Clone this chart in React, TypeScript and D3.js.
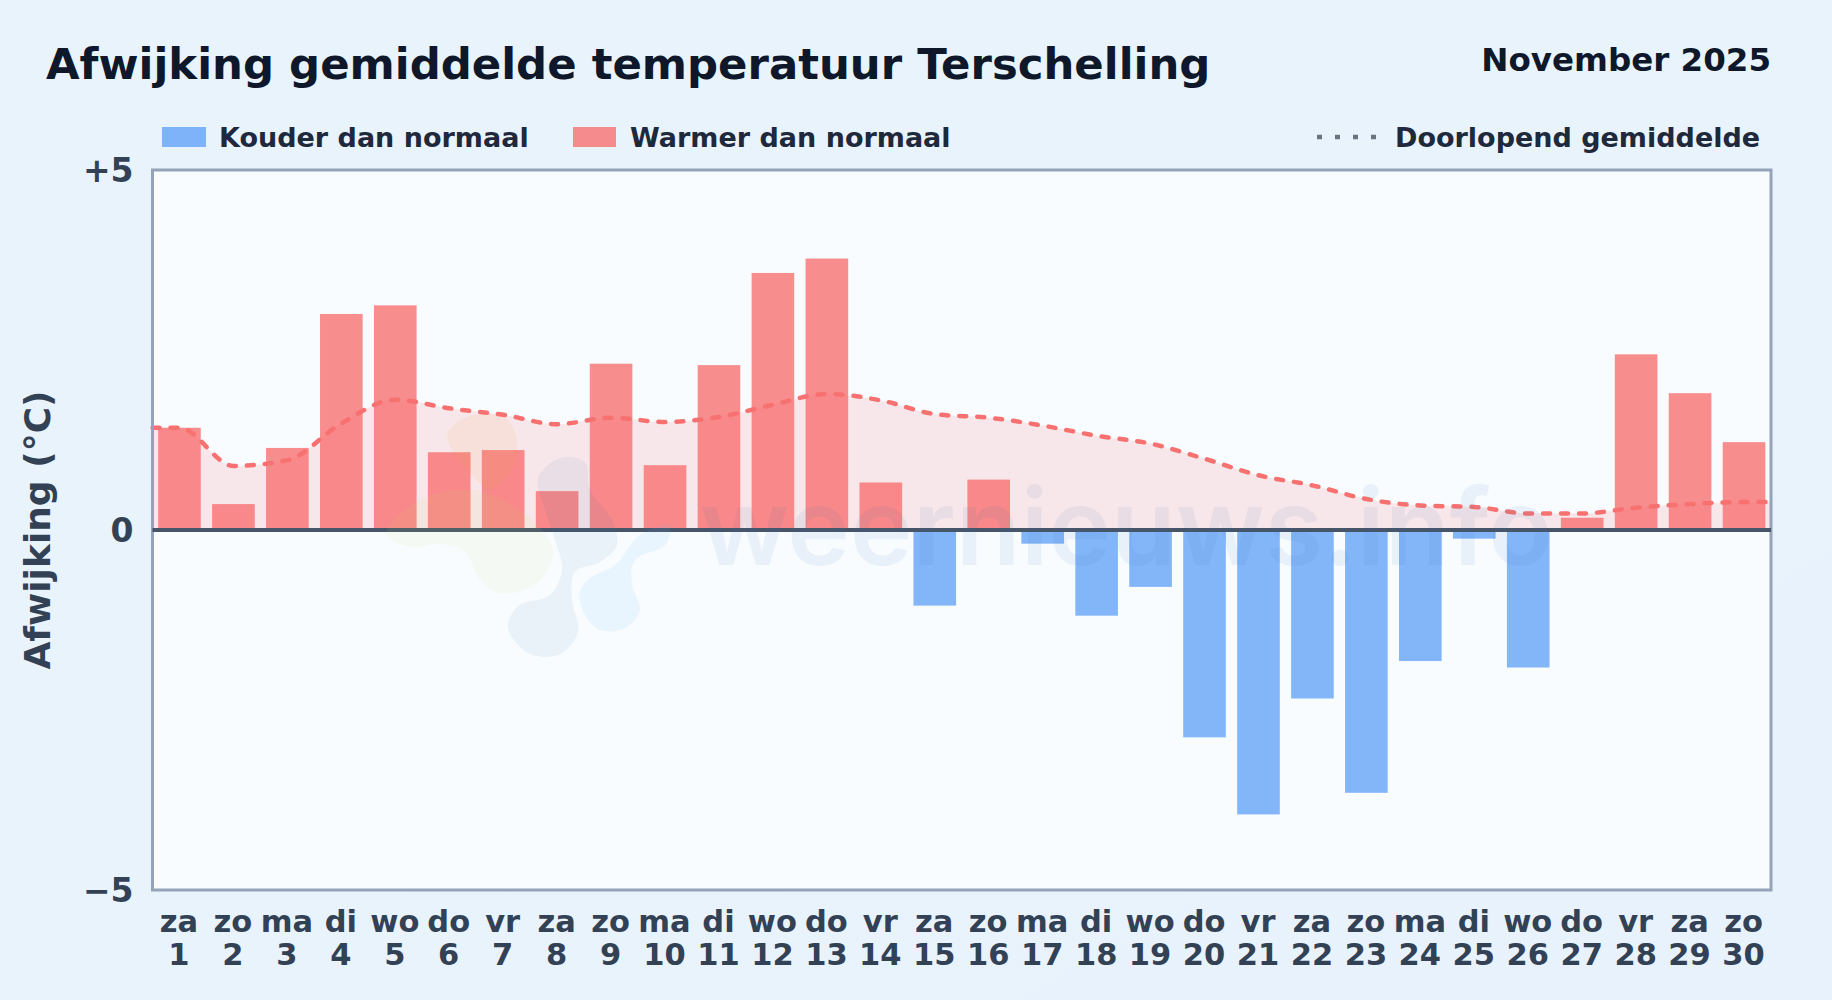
import { useEffect, useRef } from 'react';
import * as d3 from 'd3';

const weekdays = ['za', 'zo', 'ma', 'di', 'wo', 'do', 'vr', 'za', 'zo', 'ma', 'di', 'wo', 'do', 'vr', 'za', 'zo', 'ma', 'di', 'wo', 'do', 'vr', 'za', 'zo', 'ma', 'di', 'wo', 'do', 'vr', 'za', 'zo'];
const days = d3.range(1, 31);
const anomalies = [1.42, 0.36, 1.14, 3.0, 3.12, 1.08, 1.11, 0.54, 2.31, 0.9, 2.29, 3.57, 3.77, 0.66, -1.05, 0.7, -0.19, -1.19, -0.79, -2.88, -3.95, -2.34, -3.65, -1.82, -0.12, -1.91, 0.17, 2.44, 1.9, 1.22];
const runningMean = [1.42, 0.89, 0.97, 1.48, 1.81, 1.69, 1.6, 1.47, 1.56, 1.5, 1.57, 1.74, 1.89, 1.8, 1.61, 1.56, 1.45, 1.31, 1.2, 0.99, 0.76, 0.62, 0.43, 0.34, 0.32, 0.23, 0.23, 0.31, 0.36, 0.39];
const yTicks = [5, 0, -5];

// Faint logo behind the watermark text, outline points in page pixels
const logoBlobs: { fill: string; opacity: number; points: [number, number][] }[] = [
    { fill: '#e8a840', opacity: 0.1, points: [[448, 432], [470, 416], [505, 418], [517, 440], [512, 470], [490, 490], [468, 470], [452, 450]] },
    { fill: '#c8e060', opacity: 0.08, points: [[386, 534], [420, 500], [470, 490], [520, 510], [553, 550], [535, 585], [500, 593], [480, 580], [465, 552], [440, 544], [410, 547]] },
    { fill: '#2f6fb0', opacity: 0.07, points: [[538, 478], [560, 458], [585, 462], [590, 490], [612, 520], [617, 545], [600, 562], [575, 572], [572, 600], [578, 632], [560, 654], [530, 654], [508, 628], [518, 606], [550, 595], [562, 570], [555, 540], [545, 510]] },
    { fill: '#4db0f5', opacity: 0.09, points: [[580, 592], [590, 578], [615, 565], [640, 535], [670, 525], [665, 545], [635, 560], [632, 585], [640, 610], [625, 628], [600, 630], [585, 615]] },
];

const width = 1832;
const height = 1000;
const margin = { top: 170, right: 61, bottom: 110, left: 152.5 };
const fontFamily = '"DejaVu Sans", sans-serif';

const App = () => {
    const svgRef = useRef<SVGSVGElement>(null);

    useEffect(() => {
        const svg = d3.select(svgRef.current);
        svg.selectAll('*').remove();

        const x = d3
            .scaleBand<number>()
            .domain(days)
            .range([margin.left, width - margin.right])
            .paddingInner(0.21)
            .paddingOuter(0.105);
        const y = d3
            .scaleLinear()
            .domain([-5, 5])
            .range([height - margin.bottom, margin.top]);
        const center = (d: number) => (x(d) ?? 0) + x.bandwidth() / 2;

        // Background
        const defs = svg.append('defs');
        const bg = defs
            .append('linearGradient')
            .attr('id', 'bg')
            .attr('x1', 0)
            .attr('y1', 0)
            .attr('x2', 1)
            .attr('y2', 1);
        bg.append('stop').attr('offset', '0%').attr('stop-color', '#e8f3fc');
        bg.append('stop').attr('offset', '50%').attr('stop-color', '#e9f3fc');
        bg.append('stop').attr('offset', '100%').attr('stop-color', '#e7f2fc');
        svg.append('rect')
            .attr('width', width)
            .attr('height', height)
            .attr('fill', 'url(#bg)');

        // Plot area
        svg.append('rect')
            .attr('x', margin.left)
            .attr('y', margin.top)
            .attr('width', width - margin.left - margin.right)
            .attr('height', height - margin.top - margin.bottom)
            .attr('fill', '#f8fcff');

        // Area and running mean
        const lineData: [number, number][] = [
            [margin.left, runningMean[0]],
            ...days.map((d, i): [number, number] => [center(d), runningMean[i]]),
            [width - margin.right, runningMean[runningMean.length - 1]],
        ];
        const area = d3
            .area<[number, number]>()
            .x(d => d[0])
            .y0(y(0))
            .y1(d => y(d[1]))
            .curve(d3.curveMonotoneX);
        svg.append('path')
            .attr('d', area(lineData))
            .attr('fill', '#f87171')
            .attr('fill-opacity', 0.15);

        // Bars
        svg.append('g')
            .selectAll('rect')
            .data(anomalies)
            .join('rect')
            .attr('x', (_d, i) => x(days[i]) ?? 0)
            .attr('y', d => y(Math.max(d, 0)))
            .attr('width', x.bandwidth())
            .attr('height', d => Math.abs(y(d) - y(0)))
            .attr('fill', d => (d < 0 ? '#3b8bf6' : '#f87171'))
            .attr('fill-opacity', d => (d < 0 ? 0.62 : 0.8));

        const line = d3
            .line<[number, number]>()
            .x(d => d[0])
            .y(d => y(d[1]))
            .curve(d3.curveMonotoneX);
        svg.append('path')
            .attr('d', line(lineData))
            .attr('fill', 'none')
            .attr('stroke', '#f87171')
            .attr('stroke-width', 4.5)
            .attr('stroke-dasharray', '7 11')
            .attr('stroke-linecap', 'round');

        // Frame and zero line
        svg.append('rect')
            .attr('x', margin.left)
            .attr('y', margin.top)
            .attr('width', width - margin.left - margin.right)
            .attr('height', height - margin.top - margin.bottom)
            .attr('fill', 'none')
            .attr('stroke', '#94a3b8')
            .attr('stroke-width', 3);
        svg.append('line')
            .attr('x1', margin.left)
            .attr('x2', width - margin.right)
            .attr('y1', y(0))
            .attr('y2', y(0))
            .attr('stroke', '#475569')
            .attr('stroke-width', 4);

        // Watermark lies over the marks
        const blobLine = d3
            .line()
            .curve(d3.curveCatmullRomClosed.alpha(0.5));
        svg.append('g')
            .selectAll('path')
            .data(logoBlobs)
            .join('path')
            .attr('d', d => blobLine(d.points))
            .attr('fill', d => d.fill)
            .attr('fill-opacity', d => d.opacity);
        svg.append('text')
            .attr('x', 700)
            .attr('y', 565)
            .attr('font-family', 'Inter, sans-serif')
            .attr('font-size', 106)
            .attr('font-weight', 600)
            .attr('fill', '#2f6fb0')
            .attr('fill-opacity', 0.08)
            .text('weernieuws.info');

        // Axes
        const yAxis = svg
            .append('g')
            .attr('transform', `translate(${margin.left},0)`)
            .call(
                d3
                    .axisLeft(y)
                    .tickValues(yTicks)
                    .tickSize(0)
                    .tickPadding(19)
                    .tickFormat(d => (+d > 0 ? `+${d}` : +d < 0 ? `\u2212${-d}` : `${d}`))
            );
        yAxis.select('.domain').remove();
        yAxis
            .selectAll('text')
            .attr('dy', '0.36em')
            .attr('font-family', fontFamily)
            .attr('font-size', 33)
            .attr('font-weight', 700)
            .attr('fill', '#334155');

        const xAxis = svg
            .append('g')
            .attr('transform', `translate(0,${height - margin.bottom})`)
            .call(d3.axisBottom(x).tickSize(0));
        xAxis.select('.domain').remove();
        xAxis.selectAll<SVGTextElement, number>('text').each(function (d) {
            const t = d3.select(this);
            t.text(null)
                .attr('y', 0)
                .attr('dy', null)
                .attr('x', -0.5)
                .attr('font-family', fontFamily)
                .attr('font-size', 30.5)
                .attr('font-weight', 700)
                .attr('fill', '#334155');
            t.append('tspan').attr('x', -0.5).attr('y', 42).text(weekdays[d - 1]);
            t.append('tspan').attr('x', -0.5).attr('y', 75).text(d);
        });

        // Y-axis label
        svg.append('text')
            .attr('transform', `translate(50,${y(0)}) rotate(-90)`)
            .attr('text-anchor', 'middle')
            .attr('font-family', fontFamily)
            .attr('font-size', 36)
            .attr('font-weight', 700)
            .attr('fill', '#334155')
            .text('Afwijking (°C)');

        // Titles
        svg.append('text')
            .attr('x', 46)
            .attr('y', 79)
            .attr('font-family', fontFamily)
            .attr('font-size', 43.4)
            .attr('font-weight', 700)
            .attr('fill', '#0f172a')
            .text('Afwijking gemiddelde temperatuur Terschelling');
        svg.append('text')
            .attr('x', 1771)
            .attr('y', 71)
            .attr('text-anchor', 'end')
            .attr('font-family', fontFamily)
            .attr('font-size', 32.5)
            .attr('font-weight', 700)
            .attr('fill', '#0f172a')
            .text('November 2025');

        // Legend
        const legendText = (lx: number, label: string) =>
            svg
                .append('text')
                .attr('x', lx)
                .attr('y', 146.5)
                .attr('font-family', fontFamily)
                .attr('font-size', 27)
                .attr('font-weight', 700)
                .attr('fill', '#1e293b')
                .text(label);
        svg.append('rect').attr('x', 162).attr('y', 127).attr('width', 44).attr('height', 20).attr('fill', '#3b8bf6').attr('fill-opacity', 0.62);
        legendText(219, 'Kouder dan normaal');
        svg.append('rect').attr('x', 573).attr('y', 127).attr('width', 43).attr('height', 20).attr('fill', '#f87171').attr('fill-opacity', 0.8);
        legendText(630, 'Warmer dan normaal');
        svg.append('line')
            .attr('x1', 1317)
            .attr('x2', 1376)
            .attr('y1', 137)
            .attr('y2', 137)
            .attr('stroke', '#6b7280')
            .attr('stroke-width', 4.5)
            .attr('stroke-dasharray', '5 13');
        legendText(1395, 'Doorlopend gemiddelde');
    }, []);

    return (
        <svg
            ref={svgRef}
            width={width}
            height={height}
            style={{ position: 'absolute', left: 0, top: 0 }}
        ></svg>
    );
};

export default App;
